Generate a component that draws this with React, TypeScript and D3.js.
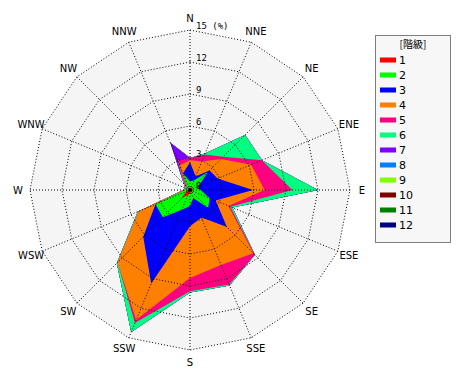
import React from "react";
import * as d3 from "d3";

const directions = ["N","NNE","NE","ENE","E","ESE","SE","SSE","S","SSW","SW","WSW","W","WNW","NW","NNW"];
const classNames = ["1","2","3","4","5","6","7","8","9","10","11","12"];
const classColors = ["#ff0000","#00ff00","#0000ff","#ff8000","#ff0080","#00ff80","#8000ff","#0080ff","#80ff00","#800000","#008000","#000080"];
const ticks = [0,3,6,9,12,15];

// frequency (%) of each class per direction
const class1 = [0.2,0.2,0.3,0.2,0.3,0.2,0.3,0.2,0.3,0.5,1.1,0.4,0.2,0.2,0.2,0.2];
const class2 = [0.6,0.8,2.1,0.6,0.7,1.8,2.1,0.6,1.2,1.5,2.5,3.1,0.3,0.2,0.2,1.5];
const class3 = [1.8,0.4,0.2,2.0,4.9,0.6,2.5,2.0,1.9,7.5,2.6,0.0,0.0,0.0,0.0,0.0];
const class4 = [0.2,1.5,1.5,3.4,1.1,1.3,3.5,4.8,4.85,3.7,3.4,1.7,0.1,0.0,0.1,0.8];
const class5 = [0.2,0.7,0.3,1.1,2.6,0.2,0.2,2.0,1.25,0.3,0.0,0.0,0.0,0.0,0.2,0.5];
const class6 = [0.0,0.1,2.9,0.0,2.4,0.2,0.0,0.1,0.1,0.9,0.1,0.1,0.0,0.1,0.1,0.0];
const class7 = [0,0,0,0,0,0,0,0,0,0,0,0,0,0,0,1.8];
const class8 = [0,0,0,0,0,0,0,0,0,0,0,0,0,0,0,0];
const class9 = [0,0,0,0,0,0,0,0,0,0,0,0,0,0,0,0];
const class10 = [0,0,0,0,0,0,0,0,0,0,0,0,0,0,0,0];
const class11 = [0,0,0,0,0,0,0,0,0,0,0,0,0,0,0,0];
const class12 = [0,0,0,0,0,0,0,0,0,0,0,0,0,0,0,0];

const series = [class1,class2,class3,class4,class5,class6,class7,class8,class9,class10,class11,class12];

export default function App() {
  const W = 470, H = 380;
  const cx = 190, cy = 190, R = 160;
  const r = d3.scaleLinear().domain([0, 15]).range([0, R]);
  const angle = d3.scaleLinear().domain([0, directions.length]).range([0, 2 * Math.PI]);

  // cumulative per direction
  const cumulative = series.map((_, ci) =>
    directions.map((_, di) => d3.sum(series.slice(0, ci + 1), s => s[di]))
  );

  const radial = d3.lineRadial<number>()
    .angle((_, i) => angle(i))
    .radius(v => r(v))
    .curve(d3.curveLinearClosed);

  const ringLine = (v: number) => radial(directions.map(() => v)) as string;
  const dotted = { stroke: "#000", strokeWidth: 1, strokeDasharray: "1 2", fill: "none" };

  const pt = (i: number, rad: number) => [
    rad * Math.sin(angle(i)),
    -rad * Math.cos(angle(i)),
  ];

  return (
    <svg width={W} height={H} style={{ position: "absolute", left: 0, top: 0, background: "#fff" }}>
      <g transform={`translate(${cx},${cy})`}>
        <path d={ringLine(15)} fill="#f5f5f5" />
        {cumulative.map((c, ci) => ci).reverse().map(ci => (
          <path key={ci} d={radial(cumulative[ci]) as string} fill={classColors[ci]} />
        ))}
        {ticks.filter(t => t > 0).map(t => (
          <path key={t} d={ringLine(t)} {...dotted} />
        ))}
        {directions.map((d, i) => {
          const [x, y] = pt(i, r(15));
          return <line key={d} x1={0} y1={0} x2={x} y2={y} {...dotted} />;
        })}
        <circle r={2} fill="#000" />
        {ticks.map(t => (
          <text key={t} x={6} y={-r(t) - 1} fontFamily="DejaVu Sans Mono" fontSize={9} fill="#000">
            {t === 15 ? "15 (%)" : String(t)}
          </text>
        ))}
        {directions.map((d, i) => {
          const [x, y] = pt(i, 172);
          return (
            <text key={d} x={x} y={y} textAnchor="middle" dominantBaseline="central"
              fontFamily="DejaVu Sans" fontSize={10} fill="#000">{d}</text>
          );
        })}
      </g>
      <g>
        <rect x={375.5} y={35.5} width={75} height={207} fill="#f7f7f7" {...{ stroke: "#000", strokeWidth: 1, strokeDasharray: "1 1" }} />
        <text x={413} y={48} textAnchor="middle" fontFamily="Noto Sans CJK JP" fontSize={10} fill="#000">[階級]</text>
        {classNames.map((n, i) => (
          <g key={n} transform={`translate(380,${60 + i * 15})`}>
            <rect x={0} y={-2.5} width={16} height={5} fill={classColors[i]} />
            <text x={19} y={0} dominantBaseline="central" fontFamily="DejaVu Sans" fontSize={11} fill="#000">{n}</text>
          </g>
        ))}
      </g>
    </svg>
  );
}
